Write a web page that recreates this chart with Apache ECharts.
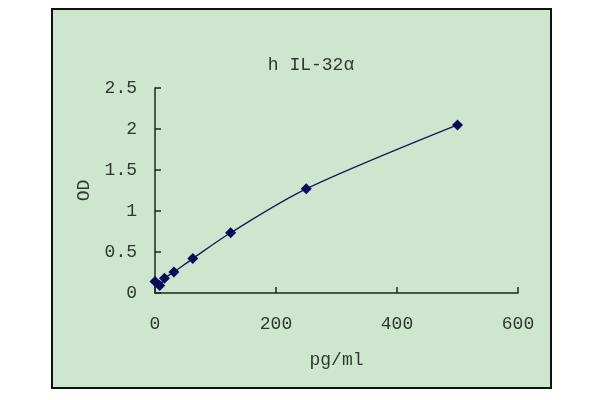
<!DOCTYPE html>
<html>
<head>
<meta charset="utf-8">
<script src="https://cdn.jsdelivr.net/npm/echarts@6/dist/echarts.min.js"></script>
<style>
html,body{margin:0;padding:0;background:#fff;}
#main{width:600px;height:400px;}
</style>
</head>
<body>
<div id="main"></div>
<script>
var titleText = 'h IL-32α';
var xName = 'pg/ml';
var yName = 'OD';
var concentrations = [0, 7.8, 15.6, 31.25, 62.5, 125, 250, 500];
var odValues = [0.14, 0.09, 0.18, 0.255, 0.42, 0.735, 1.27, 2.05];
var xTicks = [0, 200, 400, 600];
var yTicks = [0, 0.5, 1, 1.5, 2, 2.5];

var points = concentrations.map(function (c, i) { return [c, odValues[i]]; });
var font = '"Liberation Mono", "DejaVu Sans Mono", monospace';
var textColor = '#2f382f';

var chart = echarts.init(document.getElementById('main'), null, {renderer: 'canvas'});
chart.setOption({
  animation: false,
  backgroundColor: '#ffffff',
  graphic: [{
    type: 'rect',
    z: -10,
    shape: {x: 52, y: 9, width: 499, height: 379},
    style: {fill: '#cde6cd', stroke: '#111', lineWidth: 2}
  }],
  title: {
    text: titleText,
    left: 306,
    textAlign: 'center',
    top: 51,
    textStyle: {fontFamily: font, fontSize: 18, fontWeight: 'normal', color: textColor}
  },
  grid: {left: 155, right: 82, top: 88, bottom: 107, containLabel: false},
  xAxis: {
    type: 'value',
    min: xTicks[0],
    max: xTicks[xTicks.length - 1],
    interval: xTicks[1] - xTicks[0],
    name: xName,
    nameLocation: 'middle',
    nameGap: 58,
    nameTextStyle: {fontFamily: font, fontSize: 18, color: textColor},
    axisLine: {show: true, lineStyle: {color: '#1a2a1a', width: 1.5}},
    axisTick: {show: true, inside: true, length: 6, lineStyle: {color: '#1a2a1a', width: 1.5}},
    axisLabel: {fontFamily: font, fontSize: 18, color: textColor, margin: 22},
    splitLine: {show: false}
  },
  yAxis: {
    type: 'value',
    min: yTicks[0],
    max: yTicks[yTicks.length - 1],
    interval: yTicks[1] - yTicks[0],
    name: yName,
    nameLocation: 'middle',
    nameGap: 62,
    nameRotate: 90,
    nameTextStyle: {fontFamily: font, fontSize: 18, color: textColor},
    axisLine: {show: true, lineStyle: {color: '#1a2a1a', width: 1.5}},
    axisTick: {show: true, inside: true, length: 6, lineStyle: {color: '#1a2a1a', width: 1.5}},
    axisLabel: {fontFamily: font, fontSize: 18, color: textColor, margin: 18},
    splitLine: {show: false}
  },
  series: [{
    type: 'line',
    data: points,
    smooth: 0.3,
    symbol: 'diamond',
    symbolSize: 11,
    itemStyle: {color: '#0a0a5e'},
    lineStyle: {color: '#1a1a50', width: 1.4}
  }]
});
</script>
</body>
</html>
